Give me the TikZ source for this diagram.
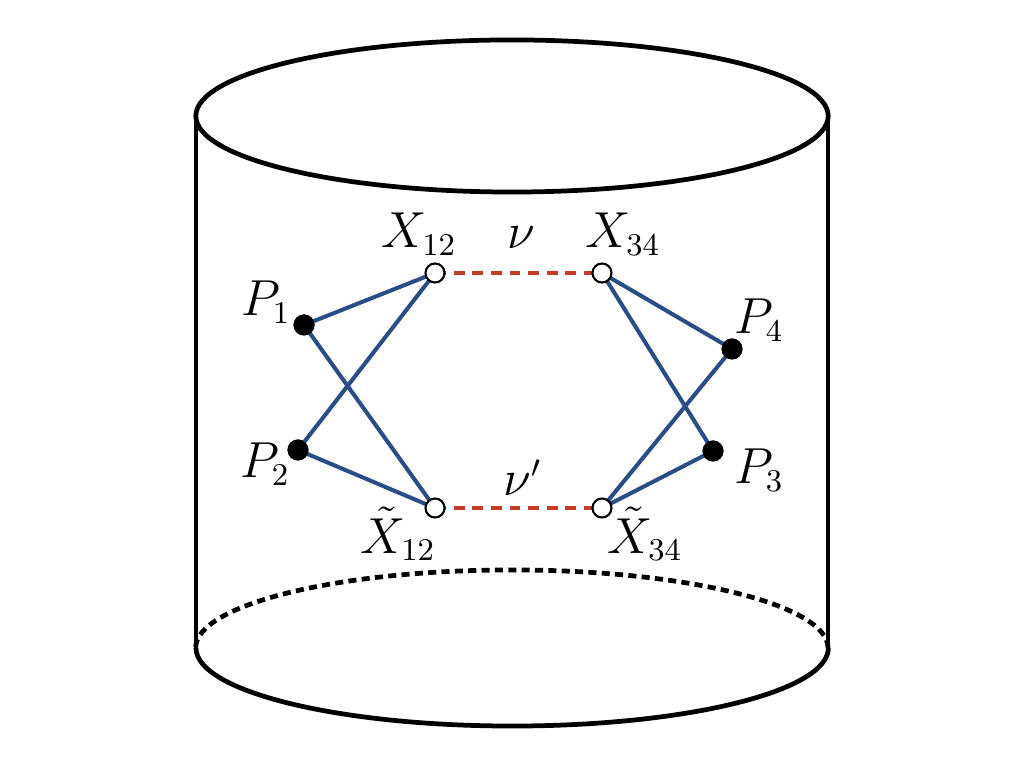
\documentclass[tikz,border=0pt]{standalone}
\usepackage{tikz}
\definecolor{edgeblue}{RGB}{41,77,135}
\definecolor{linkred}{RGB}{196,60,38}
\begin{document}
\begin{tikzpicture}[x=0.01cm,y=-0.01cm,
  cyl/.style={line width=1.35pt},
  hidden/.style={line width=1.35pt, dash pattern=on 2.3pt off 1.5pt},
  wedge/.style={draw=edgeblue, line width=1.15pt},
  link/.style={draw=linkred, line width=1.25pt, dash pattern=on 3.1pt off 2.2pt},
  hollow/.style={circle, draw=black, fill=white, line width=0.6pt, minimum size=0.19cm, inner sep=0pt},
  solid dot/.style={circle, fill=black, minimum size=0.21cm, inner sep=0pt},
  lab/.style={font=\fontsize{13.5}{16}\selectfont, inner sep=0pt}]
\useasboundingbox (0,0) rectangle (1024,768);
% cylinder
\coordinate (tc) at (512,116);
\coordinate (tl) at (196,116);
\coordinate (tr) at (828,116);
\coordinate (bl) at (196,648);
\coordinate (br) at (828,648);
\draw[cyl] (tc) ellipse [x radius=3.16cm, y radius=0.76cm];
\draw[cyl] (tl) -- (bl);
\draw[cyl] (tr) -- (br);
\draw[cyl] (bl) arc[start angle=180, end angle=360, x radius=3.16cm, y radius=0.78cm];
\draw[hidden] (br) arc[start angle=0, end angle=180, x radius=3.16cm, y radius=0.78cm];
% points
\coordinate (x12p) at (435,273);
\coordinate (x34p) at (602,273);
\coordinate (xt12p) at (435,508);
\coordinate (xt34p) at (602,508);
\draw[link] (x12p) -- (x34p);
\draw[link] (xt12p) -- (xt34p);
\node[solid dot] (p1) at (304,325) {};
\node[solid dot] (p2) at (298,450) {};
\node[solid dot] (p4) at (732,349) {};
\node[solid dot] (p3) at (713,451) {};
\draw[wedge] (p1.center) -- (x12p);
\draw[wedge] (p1.center) -- (xt12p);
\draw[wedge] (p2.center) -- (x12p);
\draw[wedge] (p2.center) -- (xt12p);
\draw[wedge] (p4.center) -- (x34p);
\draw[wedge] (p4.center) -- (xt34p);
\draw[wedge] (p3.center) -- (x34p);
\draw[wedge] (p3.center) -- (xt34p);
\node[solid dot] at (p1) {};
\node[solid dot] at (p2) {};
\node[solid dot] at (p4) {};
\node[solid dot] at (p3) {};
\node[hollow] (x12) at (x12p) {};
\node[hollow] (x34) at (x34p) {};
\node[hollow] (xt12) at (xt12p) {};
\node[hollow] (xt34) at (xt34p) {};
% labels
\node[lab] (lx12) at (419,234) {$X_{12}$};
\node[lab] (lnu) at (521,238) {$\nu$};
\node[lab] (lx34) at (623,234) {$X_{34}$};
\node[lab] (lnup) at (523,478) {$\nu'$};
\node[lab] (lxt12) at (398,534) {$\tilde{X}_{12}$};
\node[lab] (lxt34) at (645,534) {$\tilde{X}_{34}$};
\node[lab] (lp1) at (266,302) {$P_1$};
\node[lab] (lp2) at (265,464) {$P_2$};
\node[lab] (lp4) at (759,320) {$P_4$};
\node[lab] (lp3) at (759,470) {$P_3$};
\end{tikzpicture}
\end{document}
